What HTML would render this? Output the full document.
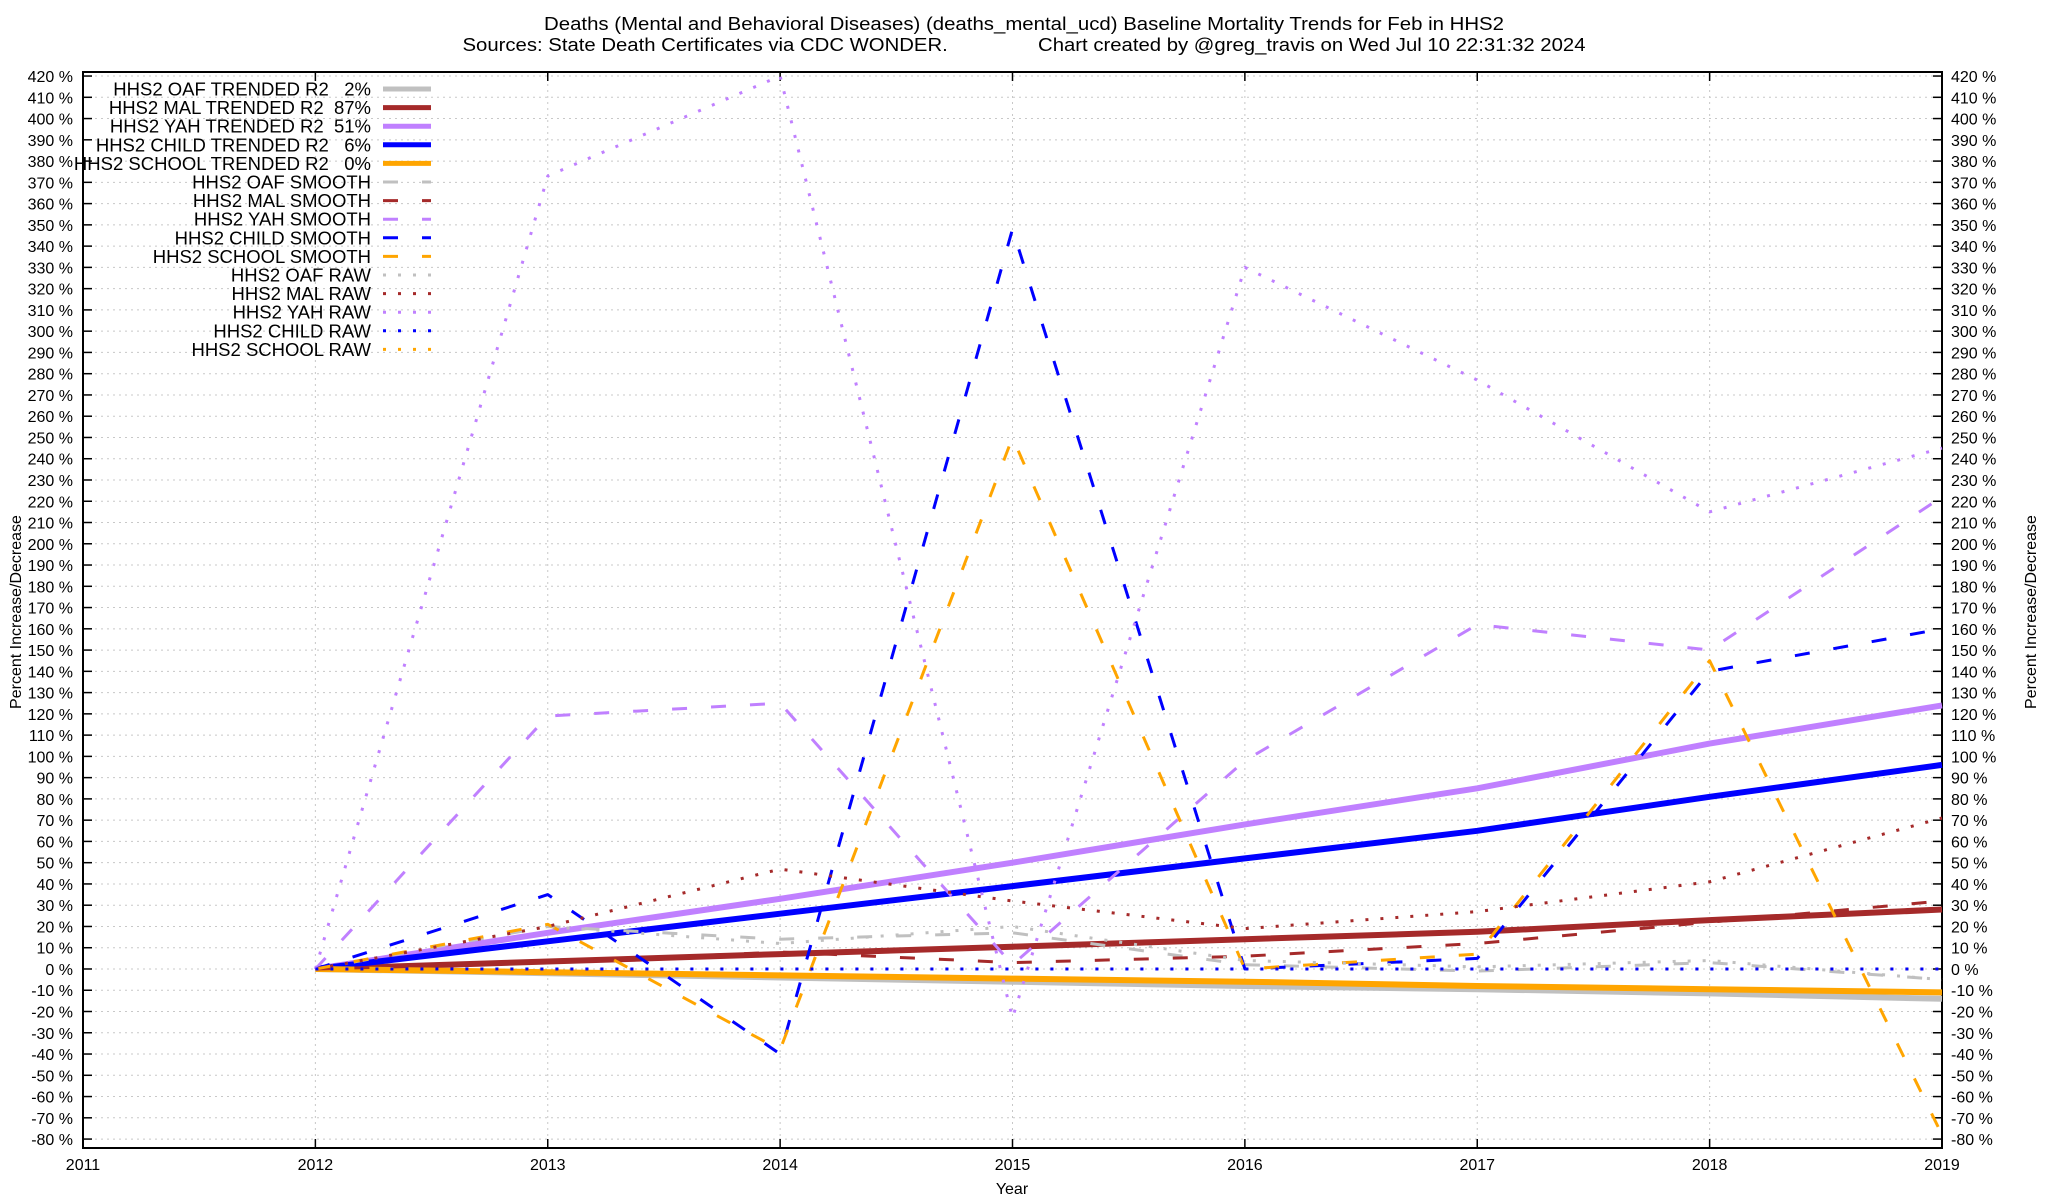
<!DOCTYPE html>
<html><head><meta charset="utf-8"><style>
html,body{margin:0;padding:0;background:#fff;}
svg{display:block;font-family:"Liberation Sans",Arial,sans-serif;}
</style></head><body>
<svg id="chart" width="2048" height="1200" viewBox="0 0 2048 1200" xmlns="http://www.w3.org/2000/svg">
<rect width="2048" height="1200" fill="#fff"/>
<text x="1024" y="30" font-size="18" text-anchor="middle" textLength="960" lengthAdjust="spacingAndGlyphs">Deaths (Mental and Behavioral Diseases) (deaths_mental_ucd)  Baseline Mortality Trends for Feb in HHS2</text>
<text x="1024" y="51" font-size="18" text-anchor="middle" textLength="1123" lengthAdjust="spacingAndGlyphs" style="white-space:pre">Sources: State Death Certificates via CDC WONDER.                Chart created by @greg_travis on Wed Jul 10 22:31:32 2024</text>
<g id="grid"></g>
<g id="axes"></g>
<g id="series"></g>
<g id="legend"></g>
<text x="1012" y="1194" font-size="16" text-anchor="middle">Year</text>
<text x="0" y="0" font-size="16" text-anchor="middle" transform="translate(21,612) rotate(-90)">Percent Increase/Decrease</text>
<text x="0" y="0" font-size="16" text-anchor="middle" transform="translate(2036,612) rotate(-90)">Percent Increase/Decrease</text>
</svg>
<script>
const years = [2012,2013,2014,2015,2016,2017,2018,2019];
const xTicks = [2011,2012,2013,2014,2015,2016,2017,2018,2019];
const yTicks = [-80,-70,-60,-50,-40,-30,-20,-10,0,10,20,30,40,50,60,70,80,90,100,110,120,130,140,150,160,170,180,190,200,210,220,230,240,250,260,270,280,290,300,310,320,330,340,350,360,370,380,390,400,410,420];
const oafTrend = [0,-2,-4,-6,-8,-9.5,-11.5,-14];
const malTrend = [0,3.5,7,10.5,14,17.5,23,28];
const yahTrend = [0,17,33,50,68,85,106,124];
const childTrend = [0,13,26,39,52,65,81,96];
const schoolTrend = [0,-1.5,-3,-4.5,-6,-8,-9.5,-11];
const oafSmooth = [0,20,14,17,2,-1,3,-5];
const malSmooth = [0,3,8,3,6,12,22,32];
const yahSmooth = [0,119,125,2,98,162,150,222];
const childSmooth = [0,35,-40,348,0,5,140,160];
const schoolSmooth = [0,21,-38,250,0,7,145,-78];
const oafRaw = [0,20,12,20,4,1,4,-5];
const malRaw = [0,20,47,32,19,27,41,71];
const yahRaw = [0,373,420,-23,330,277,215,245];
const childRaw = [0,0,0,0,0,0,0,0];
const schoolRaw = [0,0,0,0,0,0,0,0];
const legendLabels = ["HHS2 OAF TRENDED R2   2%","HHS2 MAL TRENDED R2  87%","HHS2 YAH TRENDED R2  51%","HHS2 CHILD TRENDED R2   6%","HHS2 SCHOOL TRENDED R2   0%","HHS2 OAF SMOOTH","HHS2 MAL SMOOTH","HHS2 YAH SMOOTH","HHS2 CHILD SMOOTH","HHS2 SCHOOL SMOOTH","HHS2 OAF RAW","HHS2 MAL RAW","HHS2 YAH RAW","HHS2 CHILD RAW","HHS2 SCHOOL RAW"];

const NS="http://www.w3.org/2000/svg";
const L=83,R=1942,T=72,B=1148;
const X0=2011,X1=2019,Y0=-84.2,Y1=421.9;
function sx(v){return L+(v-X0)/(X1-X0)*(R-L);}
function sy(v){return B-(v-Y0)/(Y1-Y0)*(B-T);}
function mk(tag,attrs,parent){const e=document.createElementNS(NS,tag);for(const k in attrs)e.setAttribute(k,attrs[k]);parent.appendChild(e);return e;}

const grid=document.getElementById('grid'),axes=document.getElementById('axes'),ser=document.getElementById('series'),leg=document.getElementById('legend');
yTicks.forEach(v=>{
  const y=sy(v);
  const g=mk('line',{x1:L,x2:R,y1:y,y2:y,stroke:'#c8c8c8','stroke-width':1,'stroke-dasharray':'2 4'},grid);
  
  
  const t1=mk('line',{x1:L,x2:L+9,y1:y,y2:y,stroke:'#000','stroke-width':1.5},axes);
  
  
  const t2=mk('line',{x1:R-9,x2:R,y1:y,y2:y,stroke:'#000','stroke-width':1.5},axes);
  
  
  const a=mk('text',{x:73,y:y+6,'font-size':16,'text-anchor':'end'},axes);a.textContent=v+' %';
  
  
  const b=mk('text',{x:1951,y:y+6,'font-size':16,'text-anchor':'start'},axes);b.textContent=v+' %';
  
  
});
xTicks.forEach(v=>{
  const x=sx(v);
  const g=mk('line',{x1:x,x2:x,y1:T,y2:B,stroke:'#c8c8c8','stroke-width':1,'stroke-dasharray':'2 4'},grid);
  
  
  const t1=mk('line',{x1:x,x2:x,y1:B-9,y2:B,stroke:'#000','stroke-width':1.5},axes);
  
  
  const t2=mk('line',{x1:x,x2:x,y1:T,y2:T+9,stroke:'#000','stroke-width':1.5},axes);
  
  
  const a=mk('text',{x:x,y:1170,'font-size':16,'text-anchor':'middle'},axes);a.textContent=v;
  
  
});
const frame=mk('rect',{x:L,y:T,width:R-L,height:B-T,fill:'none',stroke:'#000','stroke-width':2},axes);



const C={oaf:'#c0c0c0',mal:'#a52a2a',yah:'#c080ff',child:'#0000ff',school:'#ffa500'};
const styles={trend:{w:6,d:null},smooth:{w:3,d:'15 24'},raw:{w:3,d:'3 12'}};
const list=[
 [oafTrend,C.oaf,'trend','oaf-trend-line'],[malTrend,C.mal,'trend','mal-trend-line'],[yahTrend,C.yah,'trend','yah-trend-line'],[childTrend,C.child,'trend','child-trend-line'],[schoolTrend,C.school,'trend','school-trend-line'],
 [oafSmooth,C.oaf,'smooth','oaf-smooth-line'],[malSmooth,C.mal,'smooth','mal-smooth-line'],[yahSmooth,C.yah,'smooth','yah-smooth-line'],[childSmooth,C.child,'smooth','child-smooth-line'],[schoolSmooth,C.school,'smooth','school-smooth-line'],
 [oafRaw,C.oaf,'raw','oaf-raw-line'],[malRaw,C.mal,'raw','mal-raw-line'],[yahRaw,C.yah,'raw','yah-raw-line'],[schoolRaw,C.school,'raw','school-raw-line'],[childRaw,C.child,'raw','child-raw-line']
];
list.forEach((s,i)=>{
  const [vals,col,kind,name]=s;const st=styles[kind];
  const pts=vals.map((v,j)=>sx(years[j]).toFixed(1)+','+sy(v).toFixed(1)).join(' ');
  const p=mk('polyline',{points:pts,fill:'none',stroke:col,'stroke-width':st.w,'stroke-linejoin':'round'},ser);
  if(st.d)p.setAttribute('stroke-dasharray',st.d);
  
  
});
const legendColors=[C.oaf,C.mal,C.yah,C.child,C.school,C.oaf,C.mal,C.yah,C.child,C.school,C.oaf,C.mal,C.yah,C.child,C.school];
legendLabels.forEach((lab,i)=>{
  const kind=i<5?'trend':(i<10?'smooth':'raw');const st=styles[kind];
  const y=89+i*18.6;
  const t=mk('text',{x:371,y:y+6.5,'font-size':18.5,'text-anchor':'end',style:'white-space:pre'},leg);t.textContent=lab;
  
  
  const ls=mk('line',{x1:383,x2:431,y1:y,y2:y,stroke:legendColors[i],'stroke-width':kind==='trend'?5:3},leg);
  if(st.d)ls.setAttribute('stroke-dasharray',st.d);
  
  
});
</script>
</body></html>
